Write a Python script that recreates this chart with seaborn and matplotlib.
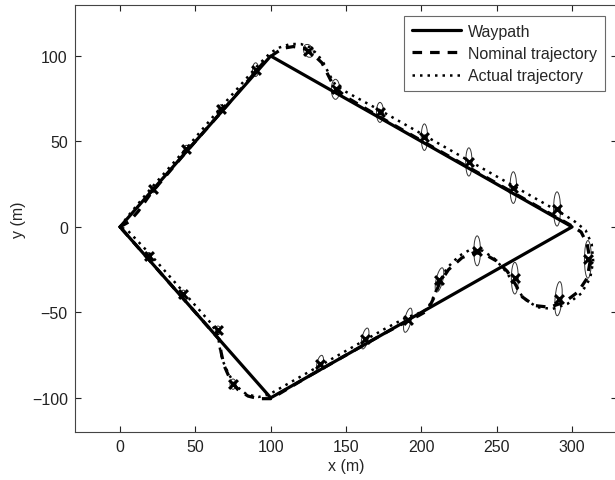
import numpy as np
import pandas as pd
import matplotlib
matplotlib.use('Agg')
import matplotlib.pyplot as plt
from matplotlib.patches import Ellipse
import seaborn as sns

# waypath corners
way_x = [0, 100, 300, 100, 0]
way_y = [0, 100, 0, -100, 0]

# nominal trajectory (dashed)
nom_x = [0, 6, 12, 20, 45, 70, 95, 102, 108, 115, 122, 128, 134, 138, 142, 150, 175, 200, 225, 250, 275,
         300, 306, 310, 312, 310, 304, 295, 285, 275, 267, 262, 257, 250, 242, 235, 227, 218, 212, 208,
         204, 198, 190, 175, 150, 125, 105, 100, 92, 85, 78, 73, 69, 67, 66, 60, 40, 20, 0]
nom_y = [0, 3, 9, 19, 45, 70, 96, 101, 104.5, 105.5, 104.5, 101, 96, 89, 82, 76, 63, 50.5, 38, 25.5, 13,
         0.5, -3, -10, -20, -30, -38, -44, -47, -46, -41, -33, -26, -20, -16, -15, -18, -25, -33, -42,
         -49, -52, -55.5, -62.5, -75, -87.5, -98, -100.5, -100.5, -99, -95, -89, -81, -73, -66, -60, -40, -20, 0]

# actual trajectory (dotted)
act_x = [0, 5, 20, 44, 68, 92, 100, 106, 113, 120, 126, 131, 135, 139, 143, 150, 175, 200, 225, 250, 275,
         295, 302, 309, 313, 314, 312, 306, 297, 287, 277, 268, 262, 256, 249, 241, 233, 225, 217, 212,
         208, 204, 197, 190, 175, 150, 125, 105, 99, 92, 84, 77, 72, 68, 66, 65, 60, 40, 20, 5, 0]
act_y = [0, 6, 22, 46, 71, 95, 102, 105, 107, 107, 105, 101, 96, 89, 83, 79, 67, 54.5, 42, 29.5, 17,
         7, 3, -2, -10, -20, -30, -39, -45, -48, -47, -42, -34, -26, -19, -14, -13, -17, -24, -32,
         -41, -48, -51, -53, -60, -72.5, -85, -95, -98, -99.5, -98, -93, -86, -78, -70, -63, -56, -36, -16, -2, 0]

# sample points with uncertainty ellipses
mark_x = [22, 44, 67, 90, 125, 143, 172.5, 202, 231.5, 261, 290, 310.5, 291, 262, 237, 212,
          191, 162.6, 132.7, 75, 65, 42, 19]
mark_y = [22, 45.5, 69, 92, 103, 80.5, 67, 52.5, 38, 23, 10.5, -19, -42, -30, -14, -31,
          -54.6, -65.3, -80, -92, -60.5, -39, -17]
ell_w = [3, 3, 3.5, 4, 6, 5.5, 4.6, 4.2, 4.2, 4.4, 4.6, 4.6, 4.6, 4.6, 4.4, 4.4,
         4.4, 4.2, 4, 4, 3.5, 3, 3]
ell_h = [4, 4.5, 5, 8, 8, 11.7, 11.7, 15.5, 16.5, 18.5, 20, 22, 20, 18.5, 17.5, 14.6,
         14.6, 12.6, 10, 6, 5, 4, 4]
ell_ang = [0, 0, 0, 0, 30, 0, 0, 0, 0, 0, 0, 0, -5, 0, 0, -15,
           -15, -15, -15, 0, 0, 0, 0]

sns.set_style('ticks')
plt.rcParams.update({
    'font.family': ['Liberation Sans', 'DejaVu Sans'],
    'font.size': 11.5,
    'xtick.direction': 'in',
    'ytick.direction': 'in',
    'xtick.top': True,
    'ytick.right': True,
    'xtick.major.size': 4,
    'ytick.major.size': 4,
    'axes.edgecolor': '#444444',
    'axes.linewidth': 0.8,
})

fig = plt.figure(figsize=(6.15, 4.81), dpi=100)
ax = fig.add_axes([74.8 / 615, 48 / 481, 542.5 / 615, 427.3 / 481])

for x, y, w, h, a in zip(mark_x, mark_y, ell_w, ell_h, ell_ang):
    ax.add_patch(Ellipse((x, y), w, h, angle=a, fill=False, edgecolor='#333333', linewidth=0.7, zorder=2))

sns.lineplot(x=way_x, y=way_y, sort=False, estimator=None, color='black', linewidth=2.3,
             ax=ax, label='Waypath', zorder=3)
sns.lineplot(x=nom_x, y=nom_y, sort=False, estimator=None, color='black', linewidth=2.3,
             linestyle=(0, (3, 2.5)), ax=ax, label='Nominal trajectory', zorder=3)
sns.lineplot(x=act_x, y=act_y, sort=False, estimator=None, color='black', linewidth=1.8,
             linestyle=(0, (1, 2)), ax=ax, label='Actual trajectory', zorder=3)
sns.scatterplot(x=mark_x, y=mark_y, marker='x', color='black', s=40, linewidth=2.2, ax=ax, zorder=4)

ax.set_xlim(-30, 330)
ax.set_ylim(-120, 130)
ax.set_xticks([0, 50, 100, 150, 200, 250, 300])
ax.set_yticks([-100, -50, 0, 50, 100])
ax.set_xticklabels(['0', '50', '100', '150', '200', '250', '300'])
ax.set_yticklabels(['\u2212100', '\u221250', '0', '50', '100'])
ax.set_xlabel('x (m)', labelpad=3)
ax.set_ylabel('y (m)', labelpad=4)
ax.tick_params(labelsize=11.5, colors='#222222', pad=5)

leg = ax.legend(loc='upper right', bbox_to_anchor=(0.977, 0.974), borderaxespad=0, frameon=True,
                fancybox=False, edgecolor='#444444', handlelength=3.1, fontsize=11.5, borderpad=0.5,
                labelspacing=0.45, handletextpad=0.4)
leg.get_frame().set_linewidth(0.8)

fig.savefig('out.png', dpi=100)
